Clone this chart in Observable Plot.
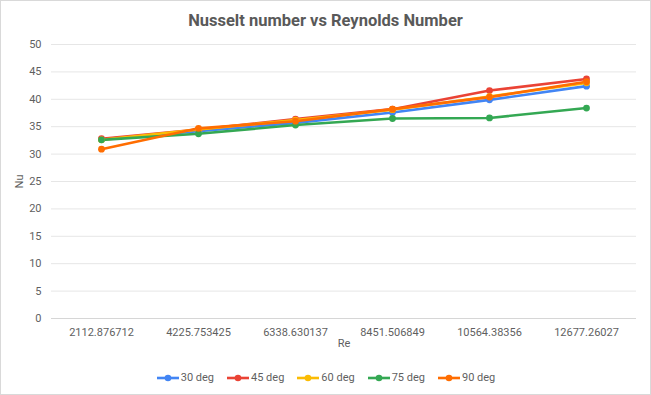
<!DOCTYPE html>
<html><head><meta charset="utf-8">
<script src="https://cdn.jsdelivr.net/npm/d3@7"></script>
<script src="https://cdn.jsdelivr.net/npm/@observablehq/plot@0.6"></script>
<style>
body{margin:0;background:#fff;font-family:Roboto,"Liberation Sans",Arial,sans-serif;}
#wrap{position:relative;width:649px;height:393px;border:1px solid #d9d9d9;background:#fff;overflow:hidden;}
#title{height:34px;line-height:40px;text-align:center;font-size:16.5px;font-weight:bold;color:#595959;}
#legend{display:flex;justify-content:center;gap:12px;font-size:11px;color:#5f5f5f;margin-top:14px;padding-left:0px}
#legend span{display:flex;align-items:center;gap:1px}
</style></head>
<body>
<div id="wrap">
<div id="title">Nusselt number vs Reynolds Number</div>
<div id="chart"></div>
<div id="legend"></div>
</div>
<script>
const categories = ["2112.876712","4225.753425","6338.630137","8451.506849","10564.38356","12677.26027"];
const seriesNames = ["30 deg","45 deg","60 deg","75 deg","90 deg"];
const seriesColors = ["#4285F4","#EA4335","#FBBC04","#34A853","#FF6D01"];
const s30 = [32.7, 34.2, 35.7, 37.6, 39.9, 42.4];
const s45 = [32.8, 34.5, 36.4, 38.2, 41.6, 43.7];
const s60 = [32.6, 34.5, 36.2, 38.1, 40.5, 43.0];
const s75 = [32.6, 33.7, 35.3, 36.5, 36.6, 38.4];
const s90 = [30.9, 34.7, 36.0, 38.2, 40.4, 43.2];
const yTicks = [0,5,10,15,20,25,30,35,40,45,50];

const allSeries = [s30,s45,s60,s75,s90];
const data = [];
allSeries.forEach((vals,i)=>vals.forEach((v,j)=>data.push({series:seriesNames[i], re:categories[j], nu:v})));

const plot = Plot.plot({
  width: 649, height: 322,
  marginLeft: 50, marginRight: 14, marginTop: 9, marginBottom: 39,
  style: {fontFamily: "Roboto, 'Liberation Sans', Arial, sans-serif", fontSize: "11px", color: "#5f5f5f"},
  x: {type: "point", domain: categories, padding: 0.5, label: "Re", labelAnchor: "center", labelArrow: "none", labelOffset: 28, tickSize: 0, tickPadding: 10},
  y: {domain: [0,50], ticks: yTicks, label: "Nu", labelAnchor: "center", labelArrow: "none", labelOffset: 36, tickSize: 0, tickPadding: 10},
  color: {domain: seriesNames, range: seriesColors},
  marks: [
    Plot.ruleY(yTicks.filter(d=>d>0), {stroke: "#e6e6e6", strokeWidth: 1}),
    Plot.ruleY([0], {stroke: "#d6d6d6", strokeWidth: 1}),
    Plot.line(data, {x: "re", y: "nu", stroke: "series", strokeWidth: 2.6, z: "series"}),
    Plot.dot(data, {x: "re", y: "nu", fill: "series", r: 3.4})
  ]
});
document.getElementById("chart").appendChild(plot);

const lg = document.getElementById("legend");
seriesNames.forEach((n,i)=>{
  const s = document.createElement("span");
  s.innerHTML = `<svg width="24" height="10"><line x1="1" y1="5" x2="23" y2="5" stroke="${seriesColors[i]}" stroke-width="2.6"/><circle cx="12" cy="5" r="3.3" fill="${seriesColors[i]}"/></svg>${n}`;
  lg.appendChild(s);
});
</script>
</body></html>
